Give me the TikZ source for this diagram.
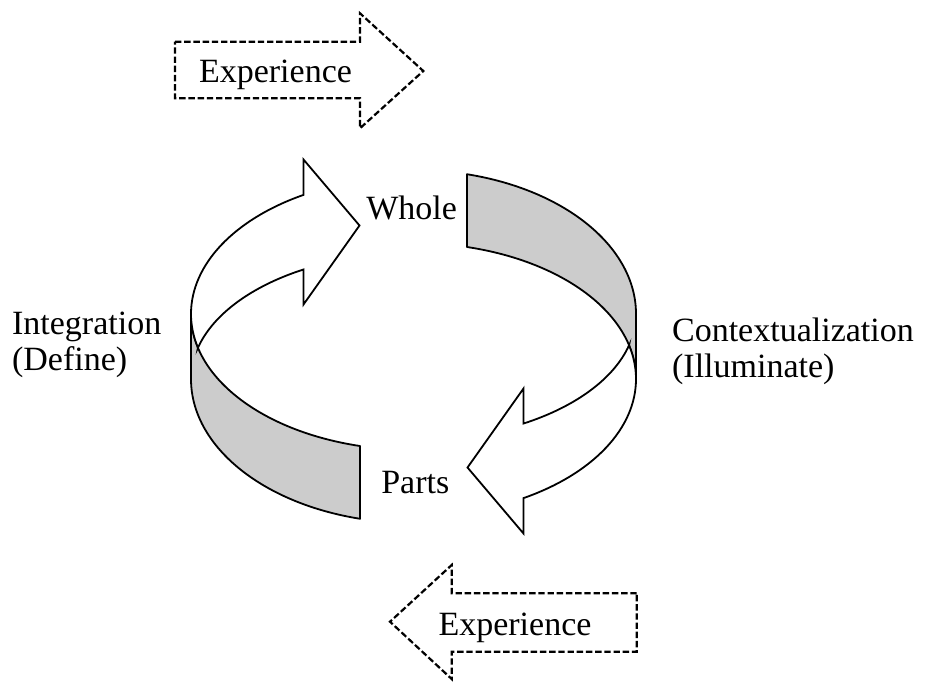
\documentclass[tikz,border=0pt]{standalone}
\usepackage{fontspec}
\setmainfont{Liberation Serif}
\definecolor{bandgray}{RGB}{204,204,204}

\begin{document}
\begin{tikzpicture}[
        x=0.5pt, y=-0.5pt,
        word/.style={font=\fontsize{17}{18}\selectfont, inner sep=0pt},
        band/.style={draw, fill=bandgray, line width=0.9pt, line join=round},
        flow/.style={draw, fill=white, line width=0.9pt, line join=miter},
        ghost/.style={draw, dash pattern=on 3.2pt off 1.4pt, line width=1.1pt}
    ]
        \useasboundingbox (0,0) rectangle (931,681);

        % Experience arrows
        \path[ghost] (175,41.7) -- (360,41.7) -- (360,13.3) -- (423.3,71) -- (360,128.3) -- (360,98.3) -- (175,98.3) -- cycle;
        \path[ghost] (636.7,593.3) -- (451.7,593.3) -- (451.7,565) -- (390,621.7) -- (451.7,679) -- (451.7,651.7) -- (636.7,651.7) -- cycle;

        % Loop: back of the band and front arrow, twice
        \foreach \turn in {0,180} {
            \begin{scope}[rotate around={\turn:(413.5,346.5)}]
                \path[band] (466.95,174.22) arc[start angle=-76.1, end angle=0, x radius=222.5, y radius=144]
                    -- (636,379) arc[start angle=0, end angle=-76.1, x radius=222.5, y radius=136] -- cycle;
                \path[flow] (629.05,345.26) arc[start angle=14.36, end angle=60.37, x radius=222.5, y radius=126]
                    -- (523.5,388.5) -- (467.5,467.5) -- (523.5,533.5) -- (523.5,498.1)
                    arc[start angle=60.37, end angle=0, x radius=222.5, y radius=137]
                    arc[start angle=0, end angle=-14.36, x radius=222.5, y radius=136] -- cycle;
            \end{scope}
        }

        % Labels
        \node[word, anchor=base] (topexp) at (275.5,82.7) {Experience};
        \node[word, anchor=base] (botexp) at (515,635) {Experience};
        \node[word, anchor=base] (whole) at (411.7,219.3) {Whole};
        \node[word, anchor=base] (parts) at (415.3,493.3) {Parts};
        \node[word, anchor=base west, align=left] (integ) at (11.7,370) {Integration\\(Define)};
        \node[word, anchor=base west, align=left] (context) at (671.7,377) {Contextualization\\(Illuminate)};
    \end{tikzpicture}
\end{document}
